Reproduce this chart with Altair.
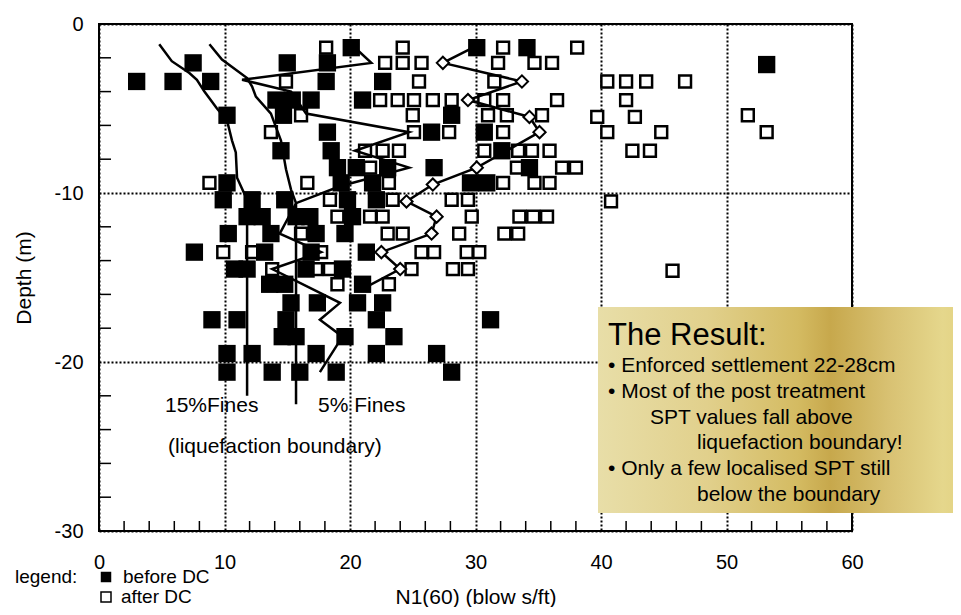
import altair as alt
import pandas as pd

FONT = "Liberation Sans"

# ---------------- data ----------------
x_ticks = [0, 10, 20, 30, 40, 50, 60]
y_ticks = [0, -10, -20, -30]
x_minor = [2, 4, 6, 8, 12, 14, 16, 18, 22, 24, 26, 28, 32, 34, 36, 38,
           42, 44, 46, 48, 52, 54, 56, 58]
y_minor = [-2, -4, -6, -8, -12, -14, -16, -18, -22, -24, -26, -28]

# before DC (filled squares)
before_N = [
    20.1, 30.1, 34.1,
    7.5, 15.0, 18.2, 53.2,
    3.0, 5.9, 8.9, 18.1, 22.6,
    14.1, 15.4, 16.9, 21.0,
    10.2, 14.7, 28.1,
    18.2, 26.5, 30.7,
    14.5, 18.5, 32.1,
    19.0, 20.5, 23.0, 26.7, 34.3,
    10.2, 19.3, 21.8, 29.6, 30.9,
    9.9, 12.2, 14.8, 19.8, 22.1,
    11.8, 13.0, 15.7, 16.8, 20.2,
    10.3, 13.7, 17.3, 19.6,
    7.6, 13.2, 16.9, 21.3,
    10.8, 11.8, 16.5, 19.4,
    13.6, 14.8, 21.0,
    15.3, 17.4, 20.6, 22.6,
    9.0, 11.0, 14.9, 22.1, 31.2,
    14.6, 15.7, 19.6, 23.5,
    10.2, 12.2, 17.3, 22.1, 26.9,
    10.2, 13.8, 16.0, 18.9, 28.1,
]
before_depth = [
    -1.4, -1.4, -1.4,
    -2.3, -2.3, -2.3, -2.4,
    -3.4, -3.4, -3.4, -3.4, -3.4,
    -4.5, -4.5, -4.5, -4.5,
    -5.4, -5.4, -5.4,
    -6.4, -6.4, -6.4,
    -7.5, -7.5, -7.5,
    -8.5, -8.5, -8.5, -8.5, -8.5,
    -9.4, -9.4, -9.4, -9.4, -9.4,
    -10.4, -10.4, -10.4, -10.4, -10.4,
    -11.4, -11.4, -11.4, -11.4, -11.4,
    -12.4, -12.4, -12.4, -12.4,
    -13.5, -13.5, -13.5, -13.5,
    -14.5, -14.5, -14.5, -14.5,
    -15.4, -15.4, -15.4,
    -16.5, -16.5, -16.5, -16.5,
    -17.5, -17.5, -17.5, -17.5, -17.5,
    -18.5, -18.5, -18.5, -18.5,
    -19.5, -19.5, -19.5, -19.5, -19.5,
    -20.6, -20.6, -20.6, -20.6, -20.6,
]

# after DC (open squares)
after_N = [
    18.1, 24.2, 32.2, 38.1,
    22.8, 24.2, 25.7, 31.8, 34.7, 36.1,
    14.9, 25.5, 31.5, 40.5, 42.0, 43.6, 46.7,
    22.4, 23.8, 25.1, 26.6, 28.1, 30.7, 32.2, 36.5, 42.0,
    16.1, 25.0, 31.0, 32.5, 35.3, 39.7, 42.7, 51.7,
    13.7, 25.1, 27.9, 32.2, 40.5, 44.8, 53.2,
    21.2, 22.6, 23.9, 30.7, 33.4, 34.5, 35.9, 42.5, 43.9,
    21.6, 33.3, 36.9, 38.0,
    8.8, 16.6, 23.1, 32.2, 34.7, 35.9,
    18.4, 23.4, 28.1, 29.4, 40.8,
    19.0, 21.6, 22.6, 29.7, 33.5, 34.6, 35.7,
    16.1, 23.0, 24.2, 28.7, 32.3, 33.4,
    9.9, 12.2, 17.7, 25.7, 26.7, 29.3, 30.3,
    13.8, 17.3, 18.4, 24.9, 28.2, 29.4, 45.7,
    19.0, 23.1,
]
after_depth = [
    -1.4, -1.4, -1.4, -1.4,
    -2.3, -2.3, -2.3, -2.3, -2.3, -2.3,
    -3.4, -3.4, -3.4, -3.4, -3.4, -3.4, -3.4,
    -4.5, -4.5, -4.5, -4.5, -4.5, -4.5, -4.5, -4.5, -4.5,
    -5.4, -5.4, -5.4, -5.4, -5.4, -5.5, -5.5, -5.4,
    -6.4, -6.4, -6.4, -6.4, -6.4, -6.4, -6.4,
    -7.5, -7.5, -7.5, -7.5, -7.5, -7.5, -7.5, -7.5, -7.5,
    -8.5, -8.5, -8.5, -8.5,
    -9.4, -9.4, -9.4, -9.4, -9.4, -9.4,
    -10.4, -10.4, -10.4, -10.4, -10.5,
    -11.4, -11.4, -11.4, -11.4, -11.4, -11.4, -11.4,
    -12.4, -12.4, -12.4, -12.4, -12.4, -12.4,
    -13.5, -13.5, -13.5, -13.5, -13.5, -13.5, -13.5,
    -14.5, -14.5, -14.5, -14.5, -14.5, -14.5, -14.6,
    -15.4, -15.4,
]

# boundary curves and trend lines
fines15_N = [4.8, 5.8, 7.2, 7.8, 8.4, 9.4, 10.2, 10.6, 10.9, 11.0, 11.8, 11.8]
fines15_depth = [-1.2, -2.2, -2.9, -3.3, -4.0, -5.0, -5.7, -6.9, -7.6, -9.1, -10.4, -22.0]
fines5_N = [8.8, 9.8, 11.8, 12.2, 12.5, 13.7, 14.1, 14.5, 14.9, 15.3, 15.7, 15.7]
fines5_depth = [-1.2, -2.1, -3.2, -3.7, -4.3, -5.3, -6.1, -6.9, -8.6, -9.8, -10.6, -22.5]
before_trend_N = [20.1, 21.7, 11.4, 15.3, 16.5, 24.7, 20.4, 24.7, 19.2, 15.7,
                  14.4, 17.7, 13.8, 19.2, 17.6, 19.4, 17.6]
before_trend_depth = [-1.2, -2.3, -3.3, -4.0, -5.3, -6.4, -7.5, -8.5, -9.6, -10.6,
                      -12.4, -13.5, -14.5, -16.5, -17.5, -18.5, -20.6]
after_trend_N = [29.8, 27.4, 33.7, 29.4, 34.3, 35.1, 30.1, 26.6, 24.5, 26.9,
                 26.5, 22.5, 24.0, 21.2]
after_trend_depth = [-1.4, -2.3, -3.4, -4.5, -5.5, -6.4, -8.5, -9.5, -10.5, -11.4,
                     -12.4, -13.5, -14.5, -15.6]

box_title = "The Result:"
box_lines = [
    "\u2022 Enforced settlement 22-28cm",
    "\u2022 Most of the post treatment",
    "SPT values fall above",
    "liquefaction boundary!",
    "\u2022 Only a few localised SPT still",
    "below the boundary",
]

# ---------------- tables ----------------
before_df = pd.DataFrame({"N": before_N, "depth": before_depth})
after_df = pd.DataFrame({"N": after_N, "depth": after_depth})

frames = []
for name, xs_, ys_ in [("f15", fines15_N, fines15_depth), ("f5", fines5_N, fines5_depth),
                       ("bt", before_trend_N, before_trend_depth),
                       ("at", after_trend_N, after_trend_depth)]:
    frames.append(pd.DataFrame({"N": xs_, "depth": ys_, "series": name,
                                "i": list(range(len(xs_)))}))
lines_df = pd.concat(frames, ignore_index=True)
diam_df = pd.DataFrame({"N": after_trend_N[1:-1], "depth": after_trend_depth[1:-1]})

W, H = 753, 507

xscale = alt.Scale(domain=[0, 60], nice=False, zero=False)
yscale = alt.Scale(domain=[-30, 0], nice=False, zero=False)

common_axis = dict(grid=True, gridDash=[2, 2], gridColor="black", gridWidth=2,
                   gridOpacity=1, ticks=False, domain=False, labelFont=FONT,
                   titleFont=FONT, labelColor="black", titleColor="black",
                   labelFontSize=20, titleFontSize=21, titleFontWeight="normal",
                   labelFlush=False, labelExpr="'' + datum.value")
X = alt.X("N:Q", scale=xscale,
          axis=alt.Axis(values=x_ticks, title="N1(60) (blow s/ft)",
                        labelPadding=21, titlePadding=14, **common_axis))
Y = alt.Y("depth:Q", scale=yscale,
          axis=alt.Axis(values=y_ticks, title="Depth (m)", labelPadding=16,
                        titlePadding=20, **common_axis))

xtick_layer = alt.Chart(pd.DataFrame({"N": x_minor})).mark_rule(
    color="black", strokeWidth=1.5).encode(x=X, y=alt.value(H), y2=alt.value(H - 10))
ytick_layer = alt.Chart(pd.DataFrame({"depth": y_minor})).mark_rule(
    color="black", strokeWidth=1.5).encode(y=Y, x=alt.value(0), x2=alt.value(12))

open_layer = alt.Chart(after_df).mark_point(
    shape="square", filled=True, fill="white", stroke="black", strokeWidth=2.5,
    size=140, opacity=1).encode(x=X, y=Y)
filled_layer = alt.Chart(before_df).mark_point(
    shape="square", filled=True, fill="black", stroke="black", strokeWidth=0,
    size=300, opacity=1).encode(x=X, y=Y)
line_layer = alt.Chart(lines_df).mark_line(color="black", strokeWidth=2.5).encode(
    x=X, y=Y, detail="series:N", order="i:Q")
diam_layer = alt.Chart(diam_df).mark_point(
    shape="diamond", filled=True, fill="white", stroke="black", strokeWidth=2,
    size=150, opacity=1).encode(x=X, y=Y)


def label(text, x, y, size, weight="normal"):
    return alt.Chart(pd.DataFrame({"t": [text]})).mark_text(
        align="left", baseline="alphabetic", font=FONT, fontSize=size,
        fontWeight=weight, color="black").encode(
        text="t:N", x=alt.value(x), y=alt.value(y))


annot = [
    label("15%Fines", 66, 388, 21),
    label("5% Fines", 219, 388, 21),
    label("(liquefaction boundary)", 69, 429, 21),
    label("legend:", -84, 559, 19),
    label("before DC", 24, 559, 19),
    label("after  DC", 22, 579, 19),
]
leg_filled = alt.Chart(pd.DataFrame({"k": ["before DC"]})).mark_point(
    shape="square", filled=True, fill="black", strokeWidth=0, size=110, opacity=1
).encode(x=alt.value(7), y=alt.value(553))
leg_open = alt.Chart(pd.DataFrame({"k": ["after DC"]})).mark_point(
    shape="square", filled=True, fill="white", stroke="black", strokeWidth=1.5,
    size=100, opacity=1).encode(x=alt.value(7), y=alt.value(573))

gold = alt.Gradient(
    gradient="linear",
    stops=[alt.GradientStop(color="#e8dea8", offset=0),
           alt.GradientStop(color="#e1d08c", offset=0.3),
           alt.GradientStop(color="#d4bb62", offset=0.55),
           alt.GradientStop(color="#c7a84c", offset=0.64),
           alt.GradientStop(color="#d8c172", offset=0.8),
           alt.GradientStop(color="#e5d78c", offset=0.95),
           alt.GradientStop(color="#e3d383", offset=1)],
    x1=0, x2=1, y1=0, y2=0)
box = alt.Chart(pd.DataFrame({"k": [box_title]})).mark_rect(fill=gold).encode(
    x=alt.value(499), x2=alt.value(862), y=alt.value(283), y2=alt.value(489))

box_text = [label(box_title, 509, 321, 31)]
box_pos = [(509, 348), (509, 374), (551, 400), (598, 425), (509, 451), (598, 477)]
for txt, (bx, by) in zip(box_lines, box_pos):
    box_text.append(label(txt, bx, by, 21))

chart = alt.layer(
    xtick_layer, ytick_layer, open_layer, filled_layer, line_layer, diam_layer,
    *annot, leg_filled, leg_open, box, *box_text
).properties(
    width=W, height=H, autosize="none",
    padding={"left": 91, "top": 16, "right": 101, "bottom": 76},
    background="white",
).configure_view(stroke="black", strokeWidth=2)

chart.save("out.html", embed_options={"renderer": "svg", "actions": False})
